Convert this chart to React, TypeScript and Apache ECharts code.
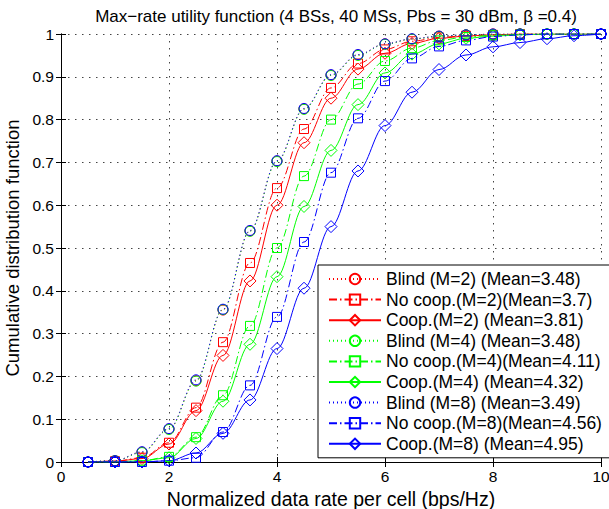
import React, { useEffect, useRef } from "react";
import * as echarts from "echarts";

const xs = [0.5, 1, 1.5, 2, 2.5, 3, 3.5, 4, 4.5, 5, 5.5, 6, 6.5, 7, 7.5, 8, 8.5, 9, 9.5, 10];

const blind2 = [0, 0.003, 0.023, 0.077, 0.19, 0.355, 0.54, 0.703, 0.825, 0.904, 0.951, 0.977, 0.988, 0.995, 0.998, 1, 1, 1, 1, 1];
const noCoop2 = [0, 0.002, 0.01, 0.045, 0.127, 0.28, 0.465, 0.64, 0.778, 0.874, 0.931, 0.964, 0.983, 0.992, 0.996, 0.998, 1, 1, 1, 1];
const coop2 = [0, 0.002, 0.008, 0.042, 0.12, 0.249, 0.423, 0.6, 0.746, 0.85, 0.918, 0.955, 0.978, 0.99, 0.995, 0.998, 1, 1, 1, 1];
const blind4 = [0, 0.003, 0.022, 0.076, 0.189, 0.356, 0.539, 0.702, 0.824, 0.903, 0.95, 0.976, 0.988, 0.994, 0.998, 0.999, 1, 1, 1, 1];
const noCoop4 = [0, 0, 0.003, 0.012, 0.058, 0.156, 0.318, 0.5, 0.668, 0.8, 0.883, 0.937, 0.967, 0.985, 0.993, 0.997, 0.999, 1, 1, 1];
const coop4 = [0, 0, 0.003, 0.01, 0.055, 0.142, 0.275, 0.433, 0.597, 0.728, 0.835, 0.909, 0.953, 0.977, 0.99, 0.995, 0.998, 1, 1, 1];
const blind8 = [0, 0.003, 0.024, 0.078, 0.192, 0.357, 0.541, 0.704, 0.826, 0.905, 0.952, 0.977, 0.989, 0.995, 0.998, 1, 1, 1, 1, 1];
const noCoop8 = [0, 0, 0, 0.003, 0.01, 0.07, 0.179, 0.339, 0.514, 0.676, 0.803, 0.89, 0.943, 0.971, 0.985, 0.994, 0.998, 1, 1, 1];
const coop8 = [0, 0, 0, 0.003, 0.021, 0.067, 0.145, 0.265, 0.406, 0.55, 0.68, 0.786, 0.864, 0.917, 0.951, 0.97, 0.98, 0.989, 0.996, 1];

const seriesNames = [
  "Blind (M=2) (Mean=3.48)",
  "No coop.(M=2)(Mean=3.7)",
  "Coop.(M=2) (Mean=3.81)",
  "Blind (M=4) (Mean=3.48)",
  "No coop.(M=4)(Mean=4.11)",
  "Coop.(M=4) (Mean=4.32)",
  "Blind (M=8) (Mean=3.49)",
  "No coop.(M=8)(Mean=4.56)",
  "Coop.(M=8) (Mean=4.95)",
];
const seriesValues = [blind2, noCoop2, coop2, blind4, noCoop4, coop4, blind8, noCoop8, coop8];
const seriesColors = ["#ff0000", "#ff0000", "#ff0000", "#00ff00", "#00ff00", "#00ff00", "#0000ff", "#0000ff", "#0000ff"];
const seriesKinds = ["blind", "nocoop", "coop", "blind", "nocoop", "coop", "blind", "nocoop", "coop"];

const FONT = "Liberation Sans, Arial, Helvetica, sans-serif";

export default function App() {
  const ref = useRef<HTMLDivElement>(null);
  useEffect(() => {
    const chart = echarts.init(ref.current!, null, { renderer: "svg" });
    const diamond = "path://M0,10L10,0L20,10L10,20Z";
    const series = seriesNames.map((name, i) => {
      const kind = seriesKinds[i];
      const color = seriesColors[i];
      const symbol = kind === "blind" ? "circle" : kind === "nocoop" ? "rect" : diamond;
      const symbolSize = kind === "blind" ? 10 : kind === "nocoop" ? 9 : 12;
      const type: any = kind === "blind" ? [1, 3] : kind === "nocoop" ? [8, 3, 1.5, 3] : "solid";
      return {
        name,
        type: "line",
        data: xs.map((x, j) => [x, seriesValues[i][j]]),
        smooth: 0.35,
        smoothMonotone: "x",
        symbol,
        symbolSize,
        showAllSymbol: true,
        lineStyle: { color, width: 1, type },
        itemStyle: { color: "rgba(255,255,255,0)", borderColor: color, borderWidth: 1 },
        emphasis: { disabled: true },
      };
    });
    chart.setOption({
      animation: false,
      textStyle: { fontFamily: FONT },
      title: {
        text: "Max\u2212rate utility function (4 BSs, 40 MSs, Pbs = 30 dBm, \u03b2 =0.4)",
        left: 331,
        textAlign: "center",
        top: 3,
        textStyle: { fontFamily: FONT, fontSize: 17, fontWeight: "normal", color: "#000" },
      },
      grid: { left: 61, right: 8, top: 34, bottom: 47, containLabel: false, outerBoundsMode: "none" },
      legend: {
        data: seriesNames,
        orient: "vertical",
        left: 318,
        top: 265,
        padding: [5, 10, 5, 10],
        itemWidth: 52,
        itemHeight: 13,
        itemGap: 2.6,
        backgroundColor: "#fff",
        borderColor: "#000",
        borderWidth: 1,
        borderRadius: 0,
        textStyle: { fontFamily: FONT, fontSize: 17.5, color: "#000" },
      },
      xAxis: [
        {
          type: "value",
          min: 0,
          max: 10,
          interval: 2,
          name: "Normalized data rate per cell (bps/Hz)",
          nameLocation: "middle",
          nameGap: 22,
          nameTextStyle: { fontFamily: FONT, fontSize: 19.5, color: "#000" },
          axisLine: { show: true, lineStyle: { color: "#000", width: 1 } },
          axisTick: { show: true, inside: true, length: 5, lineStyle: { color: "#000" } },
          axisLabel: { color: "#000", fontSize: 15.5, fontFamily: FONT, margin: 6 },
          splitLine: { show: true, lineStyle: { color: "#444", type: [1.5, 5.5], width: 1 } },
        },
        {
          type: "value",
          min: 0,
          max: 10,
          interval: 2,
          position: "top",
          axisLine: { show: true, lineStyle: { color: "#000", width: 1 } },
          axisTick: { show: true, inside: true, length: 5, lineStyle: { color: "#000" } },
          axisLabel: { show: false },
          splitLine: { show: false },
        },
      ],
      yAxis: [
        {
          type: "value",
          min: 0,
          max: 1,
          interval: 0.1,
          name: "Cumulative distribution function",
          nameLocation: "middle",
          nameGap: 36,
          nameTextStyle: { fontFamily: FONT, fontSize: 18.5, color: "#000" },
          axisLine: { show: true, lineStyle: { color: "#000", width: 1 } },
          axisTick: { show: true, inside: true, length: 5, lineStyle: { color: "#000" } },
          axisLabel: { color: "#000", fontSize: 15.5, fontFamily: FONT, margin: 7 },
          splitLine: { show: true, lineStyle: { color: "#444", type: [1.5, 5.5], width: 1 } },
        },
        {
          type: "value",
          min: 0,
          max: 1,
          interval: 0.1,
          position: "right",
          axisLine: { show: true, lineStyle: { color: "#000", width: 1 } },
          axisTick: { show: true, inside: true, length: 5, lineStyle: { color: "#000" } },
          axisLabel: { show: false },
          splitLine: { show: false },
        },
      ],
      series,
    });
    return () => chart.dispose();
  }, []);
  return (
    <div
      ref={ref}
      style={{ position: "absolute", left: 0, top: 0, width: 609, height: 509, background: "#fff" }}
    />
  );
}
